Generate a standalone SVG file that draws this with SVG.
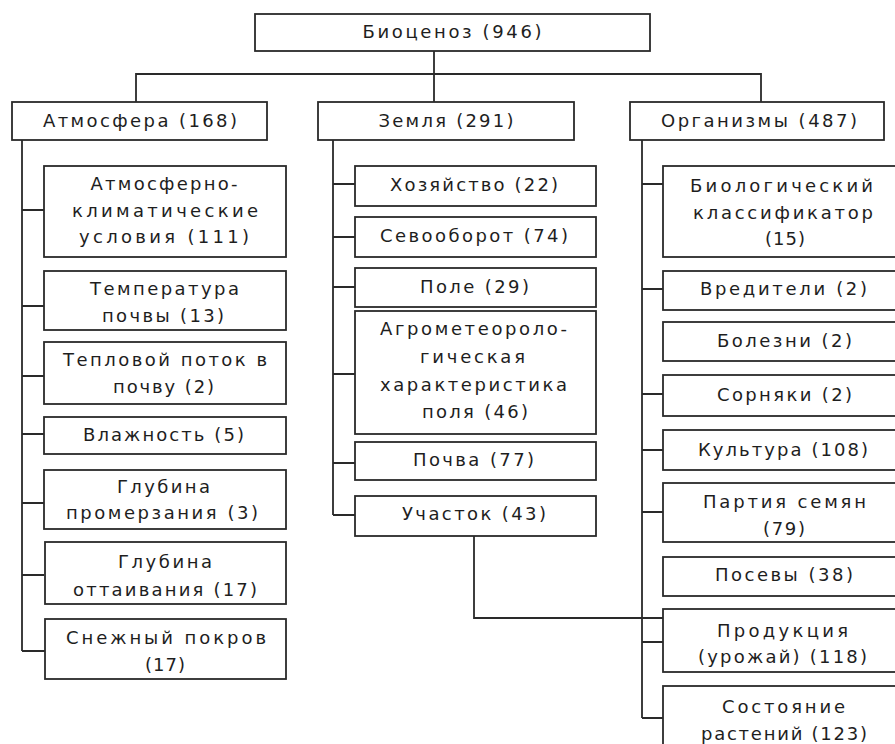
<svg xmlns="http://www.w3.org/2000/svg" width="895" height="744" viewBox="0 0 895 744">
<style>
.box{fill:#fff;stroke:#2a2a2a;stroke-width:1.8}
.ln{fill:none;stroke:#2a2a2a;stroke-width:1.8}
text{font-family:"DejaVu Sans","Liberation Sans",sans-serif;font-size:18px;fill:#1e1e1e;text-anchor:middle}
</style>
<rect width="895" height="744" fill="#fff"/>
<g id="connectors">
<path class="ln" d="M434 51V102M136 102V74H761V102"/>
<path class="ln" d="M22 140V651M22 210H44M22 306H44M22 376H44M22 434H44M22 503H44M22 575H44M22 651H45"/>
<path class="ln" d="M333 140V515M333 184H355M333 237H355M333 287H355M333 374H355M333 463H355M333 515H355"/>
<path class="ln" d="M642 140V718M642 184H663M642 289H663M642 394H663M642 450H663M642 512H663M642 642H663M642 718H663"/>
<path class="ln" d="M474 536V618H663"/>
</g>
<g id="biocenosis"><rect class="box" x="255" y="14" width="395" height="37"/><text x="452" y="38" textLength="179" lengthAdjust="spacing">Биоценоз (946)</text></g>
<g id="atmosphere"><rect class="box" x="12" y="102" width="255" height="38"/><text x="140" y="127" textLength="194" lengthAdjust="spacing">Атмосфера (168)</text></g>
<g id="earth"><rect class="box" x="318" y="102" width="256" height="38"/><text x="446" y="127" textLength="135" lengthAdjust="spacing">Земля (291)</text></g>
<g id="organisms"><rect class="box" x="630" y="102" width="254" height="38"/><text x="759" y="127" textLength="196" lengthAdjust="spacing">Организмы (487)</text></g>

<g id="atm-climate"><rect class="box" x="44" y="166" width="242" height="91"/>
<text x="164" y="190" textLength="147" lengthAdjust="spacing">Атмосферно-</text>
<text x="165" y="217" textLength="186" lengthAdjust="spacing">климатические</text>
<text x="164" y="243" textLength="170" lengthAdjust="spacing">условия (111)</text></g>
<g id="soil-temp"><rect class="box" x="44" y="271" width="242" height="59"/>
<text x="164.5" y="295" textLength="149" lengthAdjust="spacing">Температура</text>
<text x="163" y="322" textLength="122" lengthAdjust="spacing">почвы (13)</text></g>
<g id="heat-flow"><rect class="box" x="44" y="342" width="242" height="62"/>
<text x="165" y="366" textLength="204" lengthAdjust="spacing">Тепловой поток в</text>
<text x="163.5" y="393" textLength="101" lengthAdjust="spacing">почву (2)</text></g>
<g id="humidity"><rect class="box" x="44" y="417" width="242" height="37"/>
<text x="163.5" y="441" textLength="161" lengthAdjust="spacing">Влажность (5)</text></g>
<g id="freeze-depth"><rect class="box" x="44" y="470" width="242" height="59"/>
<text x="163.5" y="493" textLength="93" lengthAdjust="spacing">Глубина</text>
<text x="162" y="519" textLength="192" lengthAdjust="spacing">промерзания (3)</text></g>
<g id="thaw-depth"><rect class="box" x="45" y="542" width="241" height="62"/>
<text x="165" y="568" textLength="94" lengthAdjust="spacing">Глубина</text>
<text x="165" y="596" textLength="184" lengthAdjust="spacing">оттаивания (17)</text></g>
<g id="snow"><rect class="box" x="45" y="619" width="241" height="60"/>
<text x="166" y="644" textLength="200" lengthAdjust="spacing">Снежный покров</text>
<text x="165" y="671" textLength="40" lengthAdjust="spacing">(17)</text></g>

<g id="farm"><rect class="box" x="355" y="166" width="241" height="40"/>
<text x="474" y="191" textLength="168" lengthAdjust="spacing">Хозяйство (22)</text></g>
<g id="rotation"><rect class="box" x="355" y="217" width="241" height="40"/>
<text x="474" y="242" textLength="188" lengthAdjust="spacing">Севооборот (74)</text></g>
<g id="field"><rect class="box" x="355" y="268" width="241" height="39"/>
<text x="474.5" y="293" textLength="109" lengthAdjust="spacing">Поле (29)</text></g>
<g id="agro"><rect class="box" x="355" y="311" width="241" height="123"/>
<text x="473.5" y="335" textLength="187" lengthAdjust="spacing">Агрометеороло-</text>
<text x="472.5" y="363" textLength="105" lengthAdjust="spacing">гическая</text>
<text x="473.5" y="391" textLength="187" lengthAdjust="spacing">характеристика</text>
<text x="475" y="418" textLength="106" lengthAdjust="spacing">поля (46)</text></g>
<g id="soil"><rect class="box" x="355" y="442" width="241" height="38"/>
<text x="473.5" y="466" textLength="121" lengthAdjust="spacing">Почва (77)</text></g>
<g id="plot"><rect class="box" x="355" y="496" width="241" height="40"/>
<text x="474" y="520" textLength="144" lengthAdjust="spacing">Участок (43)</text></g>

<g id="bio-class"><rect class="box" x="663" y="166" width="241" height="91"/>
<text x="781.5" y="192" textLength="183" lengthAdjust="spacing">Биологический</text>
<text x="783" y="219" textLength="180" lengthAdjust="spacing">классификатор</text>
<text x="785" y="245" textLength="40" lengthAdjust="spacing">(15)</text></g>
<g id="pests"><rect class="box" x="663" y="271" width="241" height="39"/>
<text x="783.5" y="295" textLength="167" lengthAdjust="spacing">Вредители (2)</text></g>
<g id="diseases"><rect class="box" x="663" y="322" width="241" height="39"/>
<text x="784.5" y="347" textLength="135" lengthAdjust="spacing">Болезни (2)</text></g>
<g id="weeds"><rect class="box" x="663" y="375" width="241" height="41"/>
<text x="784.5" y="401" textLength="135" lengthAdjust="spacing">Сорняки (2)</text></g>
<g id="crop"><rect class="box" x="663" y="430" width="241" height="40"/>
<text x="783" y="456" textLength="170" lengthAdjust="spacing">Культура (108)</text></g>
<g id="seed-lot"><rect class="box" x="663" y="483" width="241" height="59"/>
<text x="784.5" y="508" textLength="163" lengthAdjust="spacing">Партия семян</text>
<text x="784" y="535" textLength="42" lengthAdjust="spacing">(79)</text></g>
<g id="sowings"><rect class="box" x="663" y="557" width="241" height="39"/>
<text x="784" y="581" textLength="138" lengthAdjust="spacing">Посевы (38)</text></g>
<g id="production"><rect class="box" x="663" y="609" width="241" height="63"/>
<text x="782.5" y="637" textLength="131" lengthAdjust="spacing">Продукция</text>
<text x="782.5" y="663" textLength="169" lengthAdjust="spacing">(урожай) (118)</text></g>
<g id="plant-state"><rect class="box" x="663" y="686" width="241" height="70"/>
<text x="783.5" y="713" textLength="123" lengthAdjust="spacing">Состояние</text>
<text x="784" y="740" textLength="166" lengthAdjust="spacing">растений (123)</text></g>
</svg>
